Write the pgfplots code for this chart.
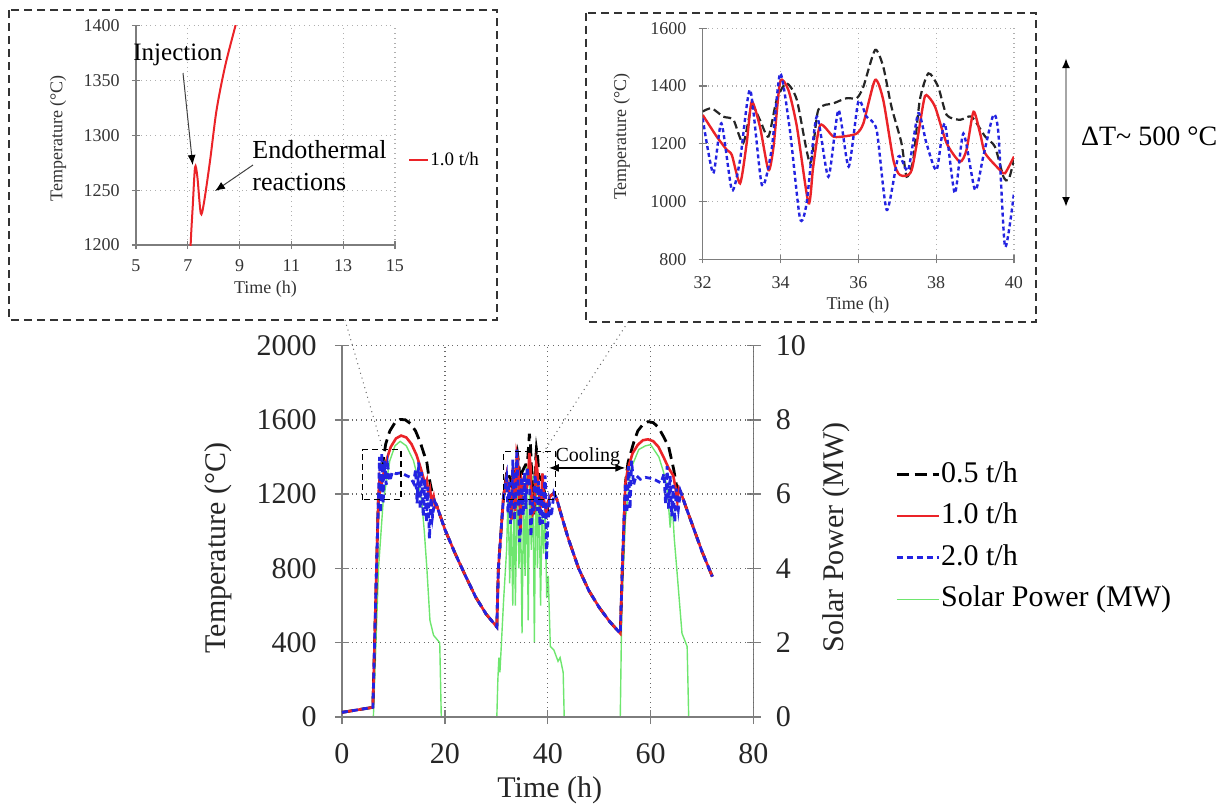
\documentclass[border=0pt]{standalone}
\usepackage{fontspec}
\setmainfont{Liberation Serif}
\usepackage{pgfplots}
\pgfplotsset{compat=1.18}
\usetikzlibrary{arrows.meta}
\definecolor{cRed}{RGB}{235,35,40}
\definecolor{cBlue}{RGB}{35,35,225}
\definecolor{cGreen}{RGB}{110,230,110}
\definecolor{cAxis}{RGB}{125,125,125}
\definecolor{cGrid}{RGB}{105,105,105}
\definecolor{cGridL}{RGB}{175,175,175}
\pgfplotsset{
  /pgf/number format/assume math mode=true,
  /pgf/number format/1000 sep={},
}
\begin{document}
\begin{tikzpicture}
\path[use as bounding box] (0,0) rectangle (611.5pt,-404.5pt);

% ---------------- main chart: right axis (solar power) ----------------
\begin{axis}[
  at={(171pt,-358.5pt)}, anchor=south west,
  scale only axis, width=205.75pt, height=185.75pt,
  xmin=0, xmax=80, ymin=0, ymax=10,
  axis x line=none, axis y line*=right,
  y axis line style={draw=cAxis, line width=0.8pt, -},
  ytick={0,2,...,10},
  tick align=center, major tick length=7pt,
  every tick/.style={cAxis, line width=0.7pt},
  yticklabel style={font=\fontsize{15}{18}\selectfont, anchor=west, inner sep=0pt, xshift=7.5pt, text=black!85},
  ylabel={Solar Power (MW)},
  ylabel style={font=\fontsize{15}{18}\selectfont, at={(axis description cs:1.202,0.483)}, anchor=center, text=black!85},
]
\addplot[cGreen, line width=0.7pt] coordinates {
(0,0)(6.1,0)(7.1,4.0)(8.0,5.8)(9.3,6.9)(10.3,7.3)(11.3,7.42)(12.5,7.3)(13.9,6.9)(14.8,6.4)(15.5,5.8)(16.0,5.0)(16.5,4.0)(17.1,2.6)(17.8,2.2)(19.0,2.0)(19.3,0)(30.1,0)
(30.3,1.0)(30.5,1.6)(30.7,1.2)(31.0,2.0)(31.4,3.1)(32,4.5)(32.3,6.0)(32.6,3.6)(32.9,5.5)(33.2,3.0)(33.5,6.2)(33.7,3.0)(34.1,6.5)(34.4,4.0)(34.7,5.8)(35.0,2.25)(35.3,6.0)(35.6,3.8)(35.9,6.8)(36.2,2.6)(36.5,7.0)(36.8,4.5)(37.1,6.5)(37.4,2.0)(37.7,6.8)(38.0,4.0)(38.3,6.3)(38.6,3.0)(38.9,5.5)(39.2,4.4)(39.5,5.6)(39.8,3.2)(40.1,3.8)(40.5,1.9)(41.2,1.8)(42.0,1.5)(42.4,1.6)(43.0,1.2)(43.2,0)(54.1,0)
(54.4,3.0)(55.1,5.3)(56.1,6.66)(57.7,7.2)(59,7.3)(60,7.33)(61.6,7.0)(62.5,6.6)(63.2,6.2)(63.8,5.1)(64.2,5.76)(64.6,4.8)(65.1,3.96)(66.1,2.25)(67.1,1.9)(67.4,0)(72,0)
};
\end{axis}

% ---------------- main chart: left axis (temperature) ----------------
\begin{axis}[
  at={(171pt,-358.5pt)}, anchor=south west,
  scale only axis, width=205.75pt, height=185.75pt,
  xmin=0, xmax=80, ymin=0, ymax=2000,
  axis x line*=bottom, axis y line*=left,
  x axis line style={draw=cAxis, line width=0.8pt, -},
  y axis line style={draw=cAxis, line width=0.8pt, -},
  xtick={0,20,...,80}, ytick={0,400,...,2000},
  grid=major, major grid style={cGrid, dotted, line width=0.7pt},
  tick align=center, major tick length=7pt,
  every tick/.style={cAxis, line width=0.7pt},
  xticklabel style={font=\fontsize{15}{18}\selectfont, anchor=north, inner sep=0pt, yshift=-9.5pt, text=black!85},
  yticklabel style={font=\fontsize{15}{18}\selectfont, anchor=east, inner sep=0pt, xshift=-9pt, text=black!85},
  xlabel={Time (h)},
  xlabel style={font=\fontsize{15}{18}\selectfont, at={(axis description cs:0.505,-0.1965)}, anchor=center, text=black!85},
  ylabel={Temperature (°C)},
  ylabel style={font=\fontsize{15}{18}\selectfont, at={(axis description cs:-0.3013,0.455)}, anchor=center, text=black!85},
  legend image code/.code={\draw[#1] (0pt,0pt) -- (21pt,0pt);},
  legend style={at={(axis description cs:1.3437,0.69)}, anchor=north west, draw=none, fill=none, inner sep=0pt,
     font=\fontsize{15}{18}\selectfont, row sep=7.3pt,
     nodes={inner xsep=0.5pt, inner ysep=0pt, text height=10.5pt, text depth=3pt}},
  legend cell align=left,
  clip=false,
]
\addplot[black, line width=1.4pt, dash pattern=on 6pt off 3pt] coordinates {
(0,25)(6,52)(7.1,1200)(7.5,1265)(8.0,1380)(8.5,1470)(9.3,1540)(10.3,1585)(11.3,1602)(12.3,1600)(13.3,1580)(14.3,1540)(15.2,1480)(15.9,1420)(16.5,1370)(16.8,1310)(17.2,1250)(17.6,1200)(18.1,1150)(18.4,1140)(20,1010)(22,880)(24,760)(26,645)(28,555)(30.1,485)(30.4,800)(31.4,1186)
(32,1312)(32.23,1323)(32.53,1294)(32.79,1283)(33.04,1202)(33.26,1329)(33.47,1283)(33.69,1225)(33.9,1352)(34.15,1410)(34.42,1352)(34.76,1133)(34.97,1317)(35.36,1340)(35.7,1358)(35.96,1358)(36.13,1398)(36.43,1525)(36.64,1467)(36.85,1329)(37.11,1202)(37.24,1086)(37.41,1144)(37.58,1352)(37.8,1444)(38.05,1398)(38.27,1300)(38.61,1283)(38.91,1294)(39.26,1225)(39.51,1190)(39.73,1086)(39.86,1075)(40,1144)
(40.5,1190)(41.2,1205)(41.8,1170)(42.5,1100)(44,960)(46,800)(48,680)(50,590)(52,515)(54.1,450)(54.5,800)(55.1,1260)(55.6,1370)(56.7,1477)(57.5,1540)(58.5,1575)(59.5,1590)(60.5,1585)(61.5,1560)(62.5,1510)(63.5,1456)(64.5,1331)(65,1250)(65.8,1215)(67,1120)(68.5,1005)(70,890)(72,756)
};
\addplot[cRed, line width=1.3pt] coordinates {
(0,25)(6,52)(7.1,1200)(7.28,1271)(7.5,1229)(7.86,1277)(8.44,1363)(8.84,1400)(9.5,1455)(10.5,1500)(11.5,1515)(12.5,1505)(13.5,1470)(14.5,1410)(15.3,1340)(15.8,1290)(16.2,1250)(16.5,1275)(16.8,1200)(17.1,1230)(17.4,1160)(17.8,1190)(18.1,1130)(18.4,1140)(20,1010)(22,880)(24,760)(26,645)(28,555)(30.1,485)(30.4,800)(31.4,1186)
(32,1300)(32.36,1225)(32.62,1179)(32.75,1161)(32.96,1063)(33.13,1202)(33.26,1346)(33.47,1260)(33.69,1109)(33.82,1190)(33.99,1415)(34.2,1387)(34.42,1260)(34.72,994)(34.84,1121)(35.02,1265)(35.36,1225)(35.7,1227)(35.96,1236)(36.13,1271)(36.43,1421)(36.64,1352)(36.9,1144)(37.07,1092)(37.37,1109)(37.67,1340)(37.75,1369)(37.97,1329)(38.27,1202)(38.61,1138)(38.78,1179)(38.96,1311)(39.13,1236)(39.26,1167)(39.64,1109)(39.77,1098)(40,1156)
(40.5,1190)(41.2,1205)(41.8,1170)(42.5,1100)(44,960)(46,800)(48,680)(50,590)(52,515)(54.1,450)(54.5,800)(55.1,1260)(55.6,1340)(56.5,1420)(57.5,1465)(58.5,1490)(59.5,1495)(60.5,1485)(61.5,1455)(62.5,1400)(63.5,1340)(64.4,1300)(64.8,1240)(65.2,1160)(65.5,1230)(65.8,1215)(67,1120)(68.5,1005)(70,890)(72,756)
};
\addplot[cBlue, line width=1.4pt, dash pattern=on 3pt off 2pt] coordinates {
(0,25)(6,52)(7.1,1200)(7.3,1400)(7.5,1100)(7.75,1420)(8.0,1150)(8.3,1380)(8.6,1250)(8.9,1350)(9.3,1270)(9.8,1320)(10.5,1310)(11.5,1315)(12.5,1300)(13.3,1290)(13.9,1260)(14.3,1330)(14.6,1150)(14.9,1370)(15.2,1120)(15.5,1320)(15.8,1080)(16.1,1280)(16.4,1050)(16.7,1240)(17.0,960)(17.3,1180)(17.6,1080)(18.0,1160)(18.4,1140)(20,1010)(22,880)(24,760)(26,645)(28,555)(30.1,485)(30.4,800)(31.4,1186)
(32,1288)(32.27,1098)(32.48,1271)(32.75,1040)(32.96,1144)(33.22,1387)(33.52,1058)(33.77,1179)(33.99,1444)(34.24,1248)(34.5,942)(34.67,994)(34.93,1294)(35.23,1086)(35.49,1317)(35.75,1121)(36.0,1346)(36.21,1294)(36.47,1248)(36.73,971)(37.03,1156)(37.28,1109)(37.54,1306)(37.75,1202)(38.01,1109)(38.22,1271)(38.48,1029)(38.7,1236)(39.0,1040)(39.21,1156)(39.47,1300)(39.6,1236)(39.77,844)(40,1029)
(40.3,1150)(40.7,1080)(41.2,1205)(41.8,1170)(42.5,1100)(44,960)(46,800)(48,680)(50,590)(52,515)(54.1,450)(54.5,800)(55.1,1260)(55.4,1100)(55.7,1350)(56.0,1120)(56.3,1380)(56.7,1250)(57.2,1300)(58,1280)(59,1290)(60,1285)(61,1275)(62,1260)(62.6,1310)(62.9,1150)(63.2,1350)(63.5,1120)(63.8,1300)(64.1,1080)(64.4,1250)(64.7,1050)(65,1230)(65.4,1120)(65.8,1215)(67,1120)(68.5,1005)(70,890)(72,756)
};
\addlegendimage{cGreen, line width=0.7pt}
\legend{0.5 t/h, 1.0 t/h, 2.0 t/h, Solar Power (MW)}
% zoom boxes and cooling arrow
\draw[black, line width=0.8pt, dash pattern=on 3pt off 2pt] (axis cs:4,1170) rectangle (axis cs:11.5,1440);
\draw[black, line width=0.8pt, dash pattern=on 3pt off 2pt] (axis cs:31.4,1170) rectangle (axis cs:41.5,1430);
\draw[black, line width=0.8pt, {Latex[length=5pt,width=4pt]}-{Latex[length=5pt,width=4pt]}] (axis cs:40.2,1341) -- (axis cs:55.1,1341);
\node[font=\fontsize{10}{12}\selectfont, anchor=center, inner sep=0pt] at (axis cs:47.8,1400) {Cooling};
\end{axis}

% ---------------- left inset ----------------
\begin{axis}[
  at={(68pt,-122.5pt)}, anchor=south west,
  scale only axis, width=129.5pt, height=109.65pt,
  xmin=5, xmax=15, ymin=1200, ymax=1400,
  axis x line*=bottom, axis y line*=left,
  x axis line style={draw=cAxis, line width=0.7pt, -},
  y axis line style={draw=cAxis, line width=0.7pt, -},
  xtick={5,7,...,15}, ytick={1200,1250,...,1400},
  grid=major, major grid style={cGridL, dotted, line width=0.6pt},
  tick align=center, major tick length=4pt,
  every tick/.style={cAxis, line width=0.6pt},
  xticklabel style={font=\fontsize{9}{11}\selectfont, anchor=north, inner sep=0pt, yshift=-5.3pt, text=black!80},
  yticklabel style={font=\fontsize{9}{11}\selectfont, anchor=east, inner sep=0pt, xshift=-6pt, text=black!80},
  xlabel={Time (h)},
  xlabel style={font=\fontsize{9}{11}\selectfont, at={(axis description cs:0.5,-0.2006)}, anchor=center, text=black!80},
  ylabel={Temperature (°C)},
  ylabel style={font=\fontsize{9}{11}\selectfont, at={(axis description cs:-0.301,0.4866)}, anchor=center, text=black!80},
  legend image code/.code={\draw[#1] (0pt,0pt) -- (9.5pt,0pt);},
  legend style={at={(axis description cs:1.05,0.3876)}, anchor=west, draw=none, fill=none, inner sep=0pt,
     font=\fontsize{9.5}{11}\selectfont, nodes={inner xsep=0.5pt, inner ysep=0pt}},
]
\addplot[cRed, line width=1pt, smooth] coordinates {
(7.05,1150)(7.11,1200)(7.19,1235)(7.28,1271)(7.37,1262)(7.5,1229)(7.62,1238)(7.86,1277)(8.11,1323)(8.44,1363)(8.84,1400)(9.2,1432)
};
\legend{1.0 t/h}
\end{axis}

% ---------------- right inset ----------------
\begin{axis}[
  at={(351.35pt,-129.65pt)}, anchor=south west,
  scale only axis, width=155.65pt, height=115.5pt,
  xmin=32, xmax=40, ymin=800, ymax=1600,
  axis x line*=bottom, axis y line*=left,
  x axis line style={draw=cAxis, line width=0.7pt, -},
  y axis line style={draw=cAxis, line width=0.7pt, -},
  xtick={32,34,...,40}, ytick={800,1000,...,1600},
  grid=major, major grid style={cGridL, dotted, line width=0.6pt},
  tick align=center, major tick length=4pt,
  every tick/.style={cAxis, line width=0.6pt},
  xticklabel style={font=\fontsize{9}{11}\selectfont, anchor=north, inner sep=0pt, yshift=-6.5pt, text=black!80},
  yticklabel style={font=\fontsize{9}{11}\selectfont, anchor=east, inner sep=0pt, xshift=-6pt, text=black!80},
  xlabel={Time (h)},
  xlabel style={font=\fontsize{9}{11}\selectfont, at={(axis description cs:0.499,-0.198)}, anchor=center, text=black!80},
  ylabel={Temperature (°C)},
  ylabel style={font=\fontsize{9}{11}\selectfont, at={(axis description cs:-0.26,0.531)}, anchor=center, text=black!80},
]
\addplot[black!85, line width=1.1pt, dash pattern=on 4pt off 2pt, smooth, tension=0.4] coordinates {
(32,1312)(32.23,1323)(32.53,1294)(32.79,1283)(33.04,1202)(33.26,1329)(33.47,1283)(33.69,1225)(33.9,1352)(34.15,1410)(34.42,1352)(34.76,1133)(34.97,1317)(35.36,1340)(35.7,1358)(35.96,1358)(36.13,1398)(36.43,1525)(36.64,1467)(36.85,1329)(37.11,1202)(37.24,1086)(37.41,1144)(37.58,1352)(37.8,1444)(38.05,1398)(38.27,1300)(38.61,1283)(38.91,1294)(39.26,1225)(39.51,1190)(39.73,1086)(39.86,1075)(40,1144)
};
\addplot[cRed, line width=1.2pt, smooth, tension=0.4] coordinates {
(32,1300)(32.36,1225)(32.62,1179)(32.75,1161)(32.96,1063)(33.13,1202)(33.26,1346)(33.47,1260)(33.69,1109)(33.82,1190)(33.99,1415)(34.2,1387)(34.42,1260)(34.72,994)(34.84,1121)(35.02,1265)(35.36,1225)(35.7,1227)(35.96,1236)(36.13,1271)(36.43,1421)(36.64,1352)(36.9,1144)(37.07,1092)(37.37,1109)(37.67,1340)(37.75,1369)(37.97,1329)(38.27,1202)(38.61,1138)(38.78,1179)(38.96,1311)(39.13,1236)(39.26,1167)(39.64,1109)(39.77,1098)(40,1156)
};
\addplot[cBlue, line width=1.2pt, dash pattern=on 2pt off 1.5pt, smooth, tension=0.4] coordinates {
(32,1288)(32.27,1098)(32.48,1271)(32.75,1040)(32.96,1144)(33.22,1387)(33.52,1058)(33.77,1179)(33.99,1444)(34.24,1248)(34.5,942)(34.67,994)(34.93,1294)(35.23,1086)(35.49,1317)(35.75,1121)(36.0,1346)(36.21,1294)(36.47,1248)(36.73,971)(37.03,1156)(37.28,1109)(37.54,1306)(37.75,1202)(38.01,1109)(38.22,1271)(38.48,1029)(38.7,1236)(39.0,1040)(39.21,1156)(39.47,1300)(39.6,1236)(39.77,844)(40,1029)
};
\end{axis}

% ---------------- annotations in pixel coordinates ----------------
\begin{scope}[x=0.5pt,y=-0.5pt]
\draw[black!80, line width=1pt, dash pattern=on 4pt off 2.5pt] (9,10) rectangle (497,320);
\draw[black!80, line width=1pt, dash pattern=on 4pt off 2.5pt] (586,12.7) rectangle (1036,321.7);
\draw[black!60, line width=0.5pt, dotted] (345,320) -- (383,450);
\draw[black!60, line width=0.5pt, dotted] (628,322) -- (543,453);
\node[font=\fontsize{12.5}{15}\selectfont, anchor=west, inner sep=0pt] at (133,55) {Injection};
\draw[black!75, line width=0.5pt, -{Latex[length=5pt,width=4pt,black]}] (183,73) -- (192.7,165);
\node[font=\fontsize{13}{15}\selectfont, anchor=west, inner sep=0pt] at (252,150) {Endothermal};
\node[font=\fontsize{13}{15}\selectfont, anchor=west, inner sep=0pt] at (252,182) {reactions};
\draw[black!75, line width=0.5pt, -{Latex[length=5pt,width=4pt,black]}] (253,165) -- (215,191);
\draw[black!35, line width=1.2pt, {Latex[length=5pt,width=4pt,black]}-{Latex[length=5pt,width=4pt,black]}] (1066,58) -- (1066,207);
\node[font=\fontsize{14}{16}\selectfont, anchor=west, inner sep=0pt] at (1080.7,136.7) {ΔT\textasciitilde\hspace{3.5pt}500~°C};
\end{scope}
\end{tikzpicture}
\end{document}
